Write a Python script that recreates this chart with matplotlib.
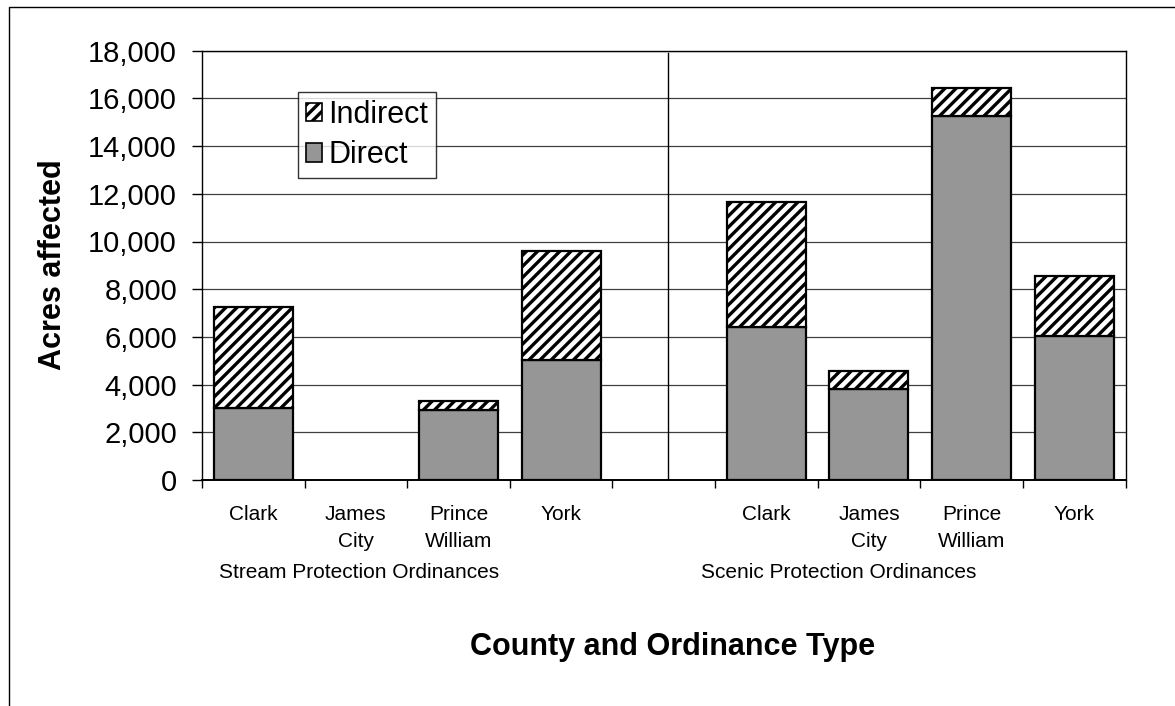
import matplotlib

matplotlib.use("Agg")
import matplotlib.pyplot as plt
import matplotlib.transforms as mtransforms
from matplotlib.lines import Line2D
from matplotlib.ticker import FixedLocator, FuncFormatter
import numpy as np

# acres affected, by county, for each ordinance type
counties = ["Clark", "James\nCity", "Prince\nWilliam", "York"]
stream_direct = [3000, 0, 2950, 5050]
stream_indirect = [4250, 0, 350, 4550]
scenic_direct = [6400, 3800, 15270, 6050]
scenic_indirect = [5250, 780, 1180, 2520]
groups = ["Stream Protection Ordinances", "Scenic Protection Ordinances"]

plt.rcParams["font.family"] = ["Liberation Sans", "DejaVu Sans"]
plt.rcParams["hatch.linewidth"] = 2.4
plt.rcParams["hatch.color"] = "black"

# one empty slot between the two ordinance groups
labels = counties + [""] + counties
direct = np.array(stream_direct + [np.nan] + scenic_direct, dtype=float)
indirect = np.array(stream_indirect + [np.nan] + scenic_indirect, dtype=float)
x = np.arange(len(labels))

fig = plt.figure(figsize=(11.75, 7.06), dpi=100)
ax = fig.add_axes([202 / 1175, 1 - 480 / 706, 923.5 / 1175, 429.3 / 706])

ax.yaxis.grid(True, color="#404040", linewidth=0.9)
ax.set_axisbelow(True)

width = 0.77
bars_d = ax.bar(x, direct, width, color="#969696", edgecolor="black",
                linewidth=1.6, label="Direct", zorder=3)
bars_i = ax.bar(x, indirect, width, bottom=direct, color="white",
                edgecolor="black", hatch="///", linewidth=1.6,
                label="Indirect", zorder=3)
# counties with nothing affected get no outline on the baseline
for patch in list(bars_d) + list(bars_i):
    if patch.get_height() == 0:
        patch.set_visible(False)

# divider between the two ordinance groups
ax.axvline(4.04, ymin=0, ymax=0.995, color="black", linewidth=1.0, zorder=2)

ax.set_xlim(-0.5, len(labels) - 0.5)
ax.set_ylim(0, 18000)
ax.set_yticks(np.arange(0, 18001, 2000))
ax.yaxis.set_major_formatter(FuncFormatter(lambda v, _: f"{v:,.0f}"))
ax.tick_params(axis="y", labelsize=21, length=7, width=1, pad=11,
               direction="out", colors="black")

ax.set_xticks(x)
ax.set_xticklabels(labels, fontsize=15, linespacing=1.55, va="top")
ax.tick_params(axis="x", which="major", length=0, pad=18)
ax.xaxis.set_minor_locator(FixedLocator(np.arange(-0.5, len(labels), 1.0)))
ax.tick_params(axis="x", which="minor", length=6, width=1, direction="out")

for side in ["left", "bottom", "top", "right"]:
    ax.spines[side].set_color("black")
    ax.spines[side].set_linewidth(1.0)
ax.spines["bottom"].set_linewidth(1.4)

# group captions under the county names
trans = mtransforms.blended_transform_factory(ax.transData, fig.transFigure)
ax.text(1.03, 1 - 572 / 706, groups[0], transform=trans, fontsize=15,
        ha="center", va="center")
ax.text(5.70, 1 - 572 / 706, groups[1], transform=trans, fontsize=15,
        ha="center", va="center")

fig.text(673 / 1175, 1 - 647 / 706, "County and Ordinance Type",
         fontsize=22, fontweight="bold", ha="center", va="center")
fig.text(53 / 1175, 1 - 265 / 706, "Acres affected", fontsize=22,
         fontweight="bold", rotation=90, ha="center", va="center")

handles, names = ax.get_legend_handles_labels()
leg = fig.legend(handles[::-1], names[::-1], loc="upper left",
                 bbox_to_anchor=(298 / 1175, 1 - 92 / 706),
                 bbox_transform=fig.transFigure, fontsize=22,
                 frameon=True, fancybox=False, shadow=False,
                 handlelength=0.55, handleheight=0.55, handletextpad=0.2,
                 labelspacing=0.35, borderpad=0.25, borderaxespad=0)
leg.get_frame().set_edgecolor("black")
leg.get_frame().set_linewidth(1.0)
for h in leg.legend_handles:
    h.set_linewidth(1.2)

# chart area border along the top and left
fig.add_artist(Line2D([8.5 / 1175, 8.5 / 1175, 1.0],
                      [0.0, 1 - 7 / 706, 1 - 7 / 706],
                      transform=fig.transFigure, color="black", linewidth=1.0))

fig.savefig("out.png", dpi=100)
plt.close(fig)
